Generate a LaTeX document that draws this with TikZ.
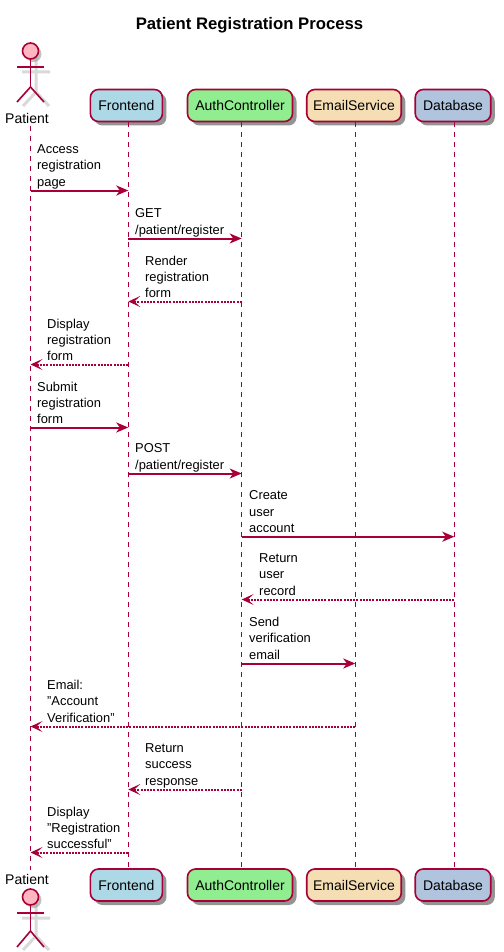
\documentclass[tikz,border=0pt]{standalone}
\usepackage{fontspec}
\setmainfont{Liberation Sans}
\usetikzlibrary{arrows.meta, shadows}

\definecolor{umlred}{HTML}{A80036}
\definecolor{actorpink}{HTML}{FFB6C1}
\definecolor{boxblue}{HTML}{ADD8E6}
\definecolor{boxgreen}{HTML}{90EE90}
\definecolor{boxwheat}{HTML}{F5DEB3}
\definecolor{boxsteel}{HTML}{B0C4DE}

\tikzset{
    party/.style={rectangle, rounded corners=8pt, draw=umlred, line width=1.6pt, inner sep=0pt,
        minimum height=32pt, font=\fontsize{14}{16}\selectfont,
        drop shadow={shadow xshift=4pt, shadow yshift=-4pt, fill=black!60, opacity=.7}},
    lifeline/.style={draw=umlred, line width=1.1pt, dash pattern=on 5pt off 5pt},
    call/.style={->, draw=umlred, line width=2pt, >={Stealth[length=12pt, width=10pt, inset=3.5pt]}},
    reply/.style={->, draw=umlred, line width=2pt, dash pattern=on 2pt off 1.2pt,
        >={Stealth[length=12pt, width=11pt, inset=6pt]}},
    msgtext/.style={anchor=north west, align=left, inner sep=0pt,
        font=\fontsize{12.9}{16.3}\selectfont},
    actorhead/.style={circle, draw=umlred, fill=actorpink, line width=1.6pt, minimum size=16pt, inner sep=0pt},
    actorlimb/.style={draw=umlred, line width=1.6pt},
    actorshadow/.style={draw=black!15, line width=3pt},
    actorname/.style={font=\fontsize{14}{16}\selectfont, inner sep=0pt},
}

\begin{document}
\begin{tikzpicture}[x=1pt, y=-1pt]
    \useasboundingbox (0, 0) rectangle (503, 952);

    \node[font=\bfseries\fontsize{16.7}{18}\selectfont] (Title) at (249.5, 25) {Patient Registration Process};

    % lifeline positions
    \coordinate (Lpatient) at (30.5, 0);
    \coordinate (Lfrontend) at (128.3, 0);
    \coordinate (Lauth) at (241.7, 0);
    \coordinate (Lemail) at (355.3, 0);
    \coordinate (Ldb) at (454.3, 0);

    % participants, top
    \node[party, fill=boxblue, minimum width=72pt] (FrontendTop) at (126.4, 105.5) {Frontend};
    \node[party, fill=boxgreen, minimum width=105pt] (AuthTop) at (240, 105.5) {AuthController};
    \node[party, fill=boxwheat, minimum width=94.5pt] (EmailTop) at (354, 105.5) {EmailService};
    \node[party, fill=boxsteel, minimum width=75.5pt] (DbTop) at (453, 105.5) {Database};

    % participants, bottom
    \node[party, fill=boxblue, minimum width=72pt] (FrontendBottom) at (126.4, 885) {Frontend};
    \node[party, fill=boxgreen, minimum width=105pt] (AuthBottom) at (240, 885) {AuthController};
    \node[party, fill=boxwheat, minimum width=94.5pt] (EmailBottom) at (354, 885) {EmailService};
    \node[party, fill=boxsteel, minimum width=75.5pt] (DbBottom) at (453, 885) {Database};

    % actor, top
    \draw[actorshadow] (36, 57) -- (36, 92) (22, 72) -- (50, 72) (36, 92) -- (23, 106) (36, 92) -- (49, 106);
    \node[actorhead, drop shadow={shadow xshift=3pt, shadow yshift=-3pt, fill=black!40, opacity=.6}] (PatientHead) at (30.5, 51) {};
    \node[actorname] (PatientTop) at (27, 118) {Patient};
    \coordinate (PatientHip) at (30.5, 87);
    \draw[actorlimb] (PatientHead) -- (PatientHip);
    \draw[actorlimb] (17, 67) -- (44, 67);
    \draw[actorlimb] (PatientHip) -- (17, 102);
    \draw[actorlimb] (PatientHip) -- (44, 102);

    % actor, bottom
    \draw[actorshadow] (36, 903) -- (36, 936) (22, 918) -- (50, 918) (36, 936) -- (23, 950) (36, 936) -- (49, 950);
    \node[actorhead, drop shadow={shadow xshift=3pt, shadow yshift=-3pt, fill=black!40, opacity=.6}] (PatientFoot) at (30.5, 897) {};
    \node[actorname] (PatientBottom) at (27, 879) {Patient};
    \coordinate (PatientFootHip) at (30.5, 931);
    \draw[actorlimb] (PatientFoot) -- (PatientFootHip);
    \draw[actorlimb] (17, 913) -- (44, 913);
    \draw[actorlimb] (PatientFootHip) -- (17, 947);
    \draw[actorlimb] (PatientFootHip) -- (44, 947);

    % lifelines
    \draw[lifeline] (Lpatient |- 0, 126) -- (Lpatient |- 0, 870);
    \draw[lifeline] (Lfrontend |- FrontendTop.south) -- (Lfrontend |- FrontendBottom.north);
    \draw[lifeline] (Lauth |- AuthTop.south) -- (Lauth |- AuthBottom.north);
    \draw[lifeline] (Lemail |- EmailTop.south) -- (Lemail |- EmailBottom.north);
    \draw[lifeline] (Ldb |- DbTop.south) -- (Ldb |- DbBottom.north);

    % message rows
    \coordinate (R1) at (0, 190.5);
    \coordinate (R2) at (0, 238.5);
    \coordinate (R3) at (0, 301.5);
    \coordinate (R4) at (0, 364.5);
    \coordinate (R5) at (0, 427.5);
    \coordinate (R6) at (0, 473.5);
    \coordinate (R7) at (0, 536.7);
    \coordinate (R8) at (0, 599.5);
    \coordinate (R9) at (0, 663.5);
    \coordinate (R10) at (0, 726.5);
    \coordinate (R11) at (0, 789.5);
    \coordinate (R12) at (0, 852.5);

    \draw[call]  (Lpatient |- R1) -- (Lfrontend |- R1);
    \draw[call]  (Lfrontend |- R2) -- (Lauth |- R2);
    \draw[reply] (Lauth |- R3) -- (Lfrontend |- R3);
    \draw[reply] (Lfrontend |- R4) -- (Lpatient |- R4);
    \draw[call]  (Lpatient |- R5) -- (Lfrontend |- R5);
    \draw[call]  (Lfrontend |- R6) -- (Lauth |- R6);
    \draw[call]  (Lauth |- R7) -- (Ldb |- R7);
    \draw[reply] (Ldb |- R8) -- (Lauth |- R8);
    \draw[call]  (Lauth |- R9) -- (Lemail |- R9);
    \draw[reply] (Lemail |- R10) -- (Lpatient |- R10);
    \draw[reply] (Lauth |- R11) -- (Lfrontend |- R11);
    \draw[reply] (Lfrontend |- R12) -- (Lpatient |- R12);

    % message labels
    \node[msgtext] (T1) at (37, 144.5) {Access\\registration\\page};
    \node[msgtext] (T2) at (135, 208.5) {GET\\/patient/register};
    \node[msgtext] (T3) at (145, 255.5) {Render\\registration\\form};
    \node[msgtext] (T4) at (47, 318.5) {Display\\registration\\form};
    \node[msgtext] (T5) at (37, 381.5) {Submit\\registration\\form};
    \node[msgtext] (T6) at (135, 443.5) {POST\\/patient/register};
    \node[msgtext] (T7) at (249, 490.7) {Create\\user\\account};
    \node[msgtext] (T8) at (259, 553.5) {Return\\user\\record};
    \node[msgtext] (T9) at (249, 617) {Send\\verification\\email};
    \node[msgtext] (T10) at (47, 680) {Email:\\"Account\\Verification"};
    \node[msgtext] (T11) at (145, 743.5) {Return\\success\\response};
    \node[msgtext] (T12) at (47, 806.5) {Display\\"Registration\\successful"};
\end{tikzpicture}
\end{document}
